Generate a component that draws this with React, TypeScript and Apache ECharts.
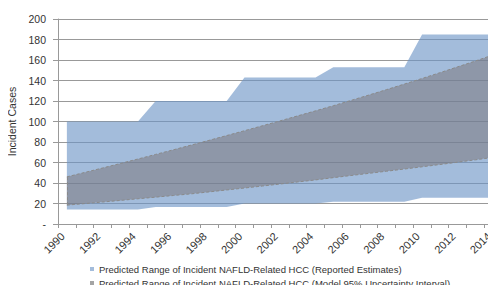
import React, { useEffect, useRef } from "react";
import * as echarts from "echarts";

const years = [
  "1990", "1991", "1992", "1993", "1994", "1995", "1996", "1997", "1998", "1999",
  "2000", "2001", "2002", "2003", "2004", "2005", "2006", "2007", "2008", "2009",
  "2010", "2011", "2012", "2013", "2014",
];
const reportedLow = [
  14.2, 14.2, 14.2, 14.2, 14.2, 16.7, 16.7, 16.7, 16.7, 16.7,
  20, 20, 20, 20, 20, 21.8, 21.8, 21.8, 21.8, 21.8,
  25.5, 25.5, 25.5, 25.5, 25.5,
];
const reportedHigh = [
  100, 100, 100, 100, 100, 120, 120, 120, 120, 120,
  143, 143, 143, 143, 143, 153, 153, 153, 153, 153,
  185, 185, 185, 185, 185,
];
const modelLow = [
  18.4, 19.9, 21.4, 23, 24.6, 26.2, 27.8, 29.4, 31.3, 33.2,
  35.1, 37, 39, 41, 43, 45.2, 47.3, 49.4, 51.5, 53.6,
  55.8, 58, 60.3, 62.6, 65,
];
const modelHigh = [
  46, 50.3, 54.6, 59, 63.4, 67.9, 72.4, 77, 81.6, 86.3,
  91, 95.8, 100.6, 105.5, 110.4, 115.4, 120.6, 125.8, 131.1, 136.5,
  142, 147.6, 153.3, 159, 165,
];
const yTicks = [0, 20, 40, 60, 80, 100, 120, 140, 160, 180, 200];

const reportedName = "Predicted Range of Incident NAFLD-Related HCC (Reported Estimates)";
const modelName = "Predicted Range of Incident NAFLD-Related HCC (Model 95% Uncertainty Interval)";

const FONT = "'Liberation Sans', Arial, sans-serif";

export default function App() {
  const ref = useRef<HTMLDivElement>(null);
  useEffect(() => {
    if (!ref.current) return;
    const chart = echarts.init(ref.current, null, { renderer: "svg" });
    const blue = "rgba(109,149,198,0.63)";
    const gray = "rgba(121,114,117,0.5)";
    const dash = { color: "#8a8a8a", width: 1, type: [3, 2] as number[] };
    const last = years.length - 1;
    const legendBase = {
      orient: "horizontal",
      left: 90,
      padding: 0,
      itemWidth: 4,
      itemHeight: 4,
      icon: "rect",
      textStyle: { fontFamily: FONT, fontSize: 9.5, lineHeight: 12, color: "#333" },
    };
    chart.setOption({
      animation: false,
      textStyle: { fontFamily: FONT },
      grid: {
        left: 58,
        top: 19,
        width: 444,
        height: 205,
        containLabel: false,
        outerBoundsMode: "none",
      },
      legend: [
        {
          ...legendBase,
          top: 263,
          data: [{ name: reportedName, itemStyle: { color: "#a3bcdb" } }],
        },
        {
          ...legendBase,
          top: 277,
          data: [{ name: modelName, itemStyle: { color: "#a4a4a4" } }],
        },
      ],
      xAxis: {
        type: "category",
        data: years,
        boundaryGap: true,
        axisLine: { lineStyle: { color: "#999" } },
        axisTick: { show: true, interval: 0, length: 4, lineStyle: { color: "#999" } },
        axisLabel: {
          interval: 1,
          rotate: 45,
          margin: 6,
          padding: [0, 6, 0, 0],
          fontSize: 11,
          color: "#333",
          fontFamily: FONT,
        },
        splitLine: { show: false },
      },
      yAxis: {
        type: "value",
        min: yTicks[0],
        max: yTicks[yTicks.length - 1],
        interval: 20,
        name: "Incident Cases",
        nameLocation: "middle",
        nameGap: 39,
        nameTextStyle: { fontSize: 10.5, color: "#333", fontFamily: FONT },
        axisLine: { show: true, lineStyle: { color: "#999" } },
        axisTick: { show: true, length: 5, lineStyle: { color: "#999" } },
        axisLabel: {
          fontSize: 10.5,
          color: "#333",
          margin: 12,
          fontFamily: FONT,
          formatter: (v: number) => (v === 0 ? "-" : String(v)),
        },
        splitLine: { show: true, lineStyle: { color: "#999", width: 1 } },
      },
      series: [
        {
          name: "reportedBase",
          type: "line",
          stack: "reported",
          data: reportedLow,
          symbol: "none",
          lineStyle: { width: 0, opacity: 0 },
          silent: true,
        },
        {
          name: reportedName,
          type: "line",
          stack: "reported",
          data: reportedHigh.map((v, i) => +(v - reportedLow[i]).toFixed(2)),
          symbol: "none",
          lineStyle: { width: 0, opacity: 0 },
          itemStyle: { color: "#a3bcdb" },
          areaStyle: { color: blue, opacity: 1 },
        },
        {
          name: "modelBase",
          type: "line",
          stack: "model",
          data: modelLow,
          symbol: "none",
          z: 5,
          lineStyle: dash,
          silent: true,
          markLine: {
            silent: true,
            symbol: "none",
            label: { show: false },
            lineStyle: dash,
            data: [
              [{ coord: [0, modelLow[0]] }, { coord: [0, modelHigh[0]] }],
              [{ coord: [last, modelLow[last]] }, { coord: [last, modelHigh[last]] }],
            ],
          },
        },
        {
          name: modelName,
          type: "line",
          stack: "model",
          data: modelHigh.map((v, i) => +(v - modelLow[i]).toFixed(2)),
          symbol: "none",
          z: 4,
          lineStyle: dash,
          itemStyle: { color: "#a4a4a4" },
          areaStyle: { color: gray, opacity: 1 },
        },
      ],
    });
    return () => chart.dispose();
  }, []);
  return <div ref={ref} style={{ width: 496, height: 293, margin: -8 }} />;
}
